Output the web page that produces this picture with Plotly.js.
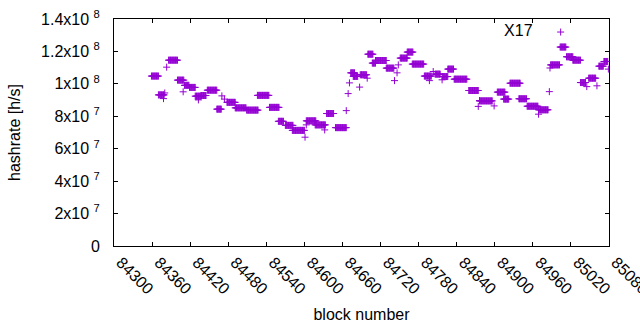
<!DOCTYPE html>
<html>
<head>
<meta charset="utf-8">
<script src="https://cdn.plot.ly/plotly-3.0.1.min.js"></script>
<style>html,body{margin:0;padding:0;background:#fff;}#chart{width:640px;height:330px;}</style>
</head>
<body>
<div id="chart"></div>
<script>
// Runs of consecutive blocks sharing the same hashrate estimate
const runFirstBlock = [84359,84370,84378,84380,84383,84386,84400,84409,84411,84419,84428,84433,84437,84447,84462,84470,84474,84478,84491,84509,84526,84545,84559,84570,84581,84601,84603,84603,84617,84632,84635,84649,84666,84669,84671,84673,84677,84687,84688,84699,84700,84707,84712,84729,84742,84746,84748,84751,84762,84770,84789,84797,84803,84806,84817,84817,84826,84836,84859,84874,84876,84876,84899,84904,84914,84924,84938,84951,84969,84969,84986,84987,84988,85003,85013,85023,85035,85045,85048,85061,85064,85072,85079];
const runLastBlock  = [84370,84379,84378,84380,84383,84400,84410,84409,84418,84428,84437,84433,84445,84462,84469,84470,84474,84491,84508,84527,84544,84560,84567,84582,84600,84601,84603,84618,84633,84632,84646,84666,84666,84669,84671,84679,84684,84687,84698,84699,84708,84712,84729,84741,84742,84746,84748,84762,84771,84788,84800,84797,84803,84814,84817,84826,84835,84856,84874,84874,84876,84896,84899,84916,84922,84940,84950,84968,84969,84984,84986,84987,85002,85012,85023,85035,85043,85045,85059,85061,85071,85078,85079];
const runHashrate   = [1.048e8,9.32e7,9.09e7,9.44e7,1.103e8,1.146e8,1.023e8,9.51e7,9.91e7,9.78e7,9.24e7,9.01e7,9.28e7,9.61e7,8.44e7,9.26e7,9.06e7,8.86e7,8.52e7,8.38e7,9.29e7,8.55e7,7.69e7,7.44e7,7.13e7,6.71e7,7.47e7,7.72e7,7.47e7,7.16e7,8.17e7,7.30e7,8.35e7,9.40e7,1.006e8,1.068e8,1.046e8,9.80e7,1.056e8,1.035e8,1.183e8,1.128e8,1.144e8,1.097e8,1.020e8,1.068e8,1.117e8,1.159e8,1.196e8,1.122e8,1.048e8,1.020e8,1.076e8,1.060e8,1.025e8,1.045e8,1.091e8,1.029e8,9.59e7,8.61e7,8.97e7,8.95e7,8.64e7,9.49e7,9.06e7,1.004e8,9.08e7,8.62e7,8.13e7,8.40e7,9.52e7,1.098e8,1.117e8,1.227e8,1.167e8,1.146e8,1.008e8,9.83e7,1.035e8,9.88e7,1.109e8,1.138e8,1.091e8];

const xTickVals = [84300,84360,84420,84480,84540,84600,84660,84720,84780,84840,84900,84960,85020,85080];
const xTickText = ["84300","84360","84420","84480","84540","84600","84660","84720","84780","84840","84900","84960","85020","85080"];
const yTickVals = [0,2e7,4e7,6e7,8e7,1e8,1.2e8,1.4e8];
const yTickText = ["0","2x10 <sup>7</sup>","4x10 <sup>7</sup>","6x10 <sup>7</sup>","8x10 <sup>7</sup>","1x10 <sup>8</sup>","1.2x10 <sup>8</sup>","1.4x10 <sup>8</sup>"];
const seriesName = "X17";

// expand runs into one point per block
const xs = [], ys = [];
for (let i = 0; i < runFirstBlock.length; i++) {
  for (let b = runFirstBlock[i]; b <= runLastBlock[i]; b++) { xs.push(b); ys.push(runHashrate[i]); }
}

const purple = '#9400D3';
const font = {family: 'Liberation Sans, Arial, sans-serif', size: 16, color: '#000'};

const trace = {
  x: xs, y: ys, type: 'scatter', mode: 'markers', name: '\u2800',
  marker: {symbol: 'cross-thin-open', size: 5, color: purple, line: {color: purple, width: 1}},
  showlegend: true
};

const layout = {
  width: 640, height: 330,
  margin: {l: 114, r: 31, t: 19, b: 84, pad: 0},
  paper_bgcolor: '#fff', plot_bgcolor: '#fff',
  font: font,
  showlegend: true,
  legend: {
    x: 0.784, y: 1.017, xanchor: 'left', yanchor: 'top', bgcolor: 'rgba(0,0,0,0)', font: font, borderwidth: 0,
    title: {text: seriesName, side: 'left', font: font}
  },
  xaxis: {
    range: [84300, 85080], tickvals: xTickVals, ticktext: xTickText, tickangle: 45, ticklabelshift: 7,
    ticks: 'inside', ticklen: 4, tickcolor: '#000', showline: true, linecolor: '#000', linewidth: 1,
    mirror: 'ticks', showgrid: false, zeroline: false, tickfont: font, ticklabeloverflow: 'allow',
    title: {text: 'block number', font: font, standoff: 12}
  },
  yaxis: {
    range: [0, 1.4e8], tickvals: yTickVals, ticktext: yTickText,
    ticks: 'inside', ticklen: 4, tickcolor: '#000', showline: true, linecolor: '#000', linewidth: 1,
    mirror: 'ticks', showgrid: false, zeroline: false, tickfont: font, ticklabelstandoff: 10,
    title: {text: 'hashrate [h/s]', font: font, standoff: 16}
  }
};

Plotly.newPlot('chart', [trace], layout, {displayModeBar: false, staticPlot: true});
</script>
</body>
</html>
